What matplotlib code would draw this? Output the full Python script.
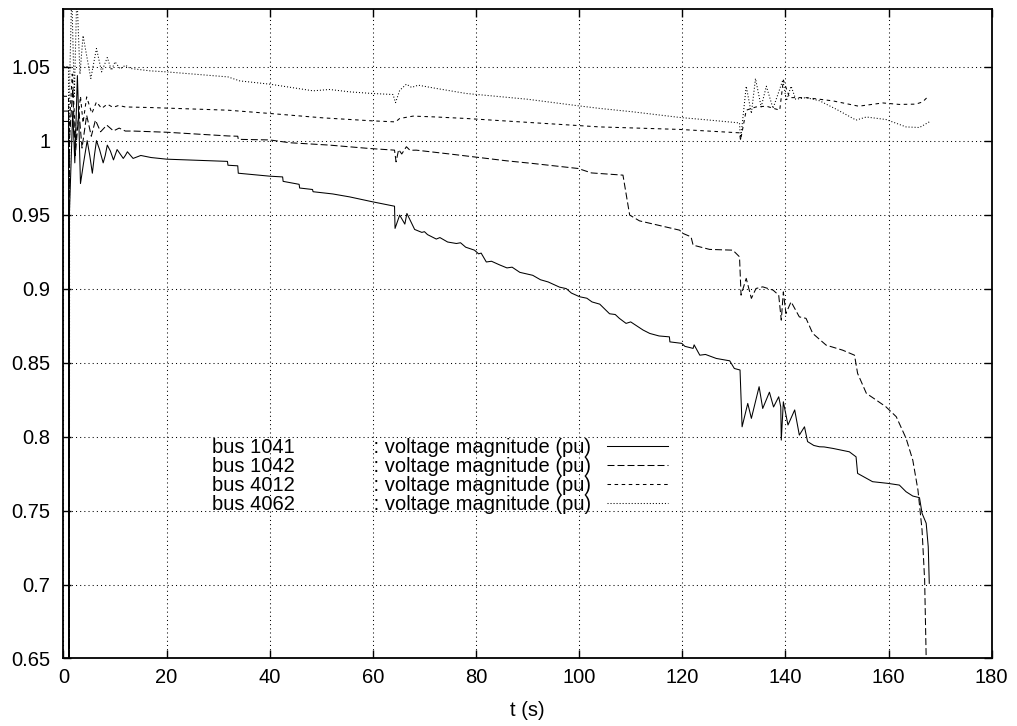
import matplotlib
matplotlib.use("Agg")
import matplotlib.pyplot as plt

plt.rcParams['font.family'] = ['Liberation Sans', 'DejaVu Sans']

# bus 1041 voltage (solid)
t_1041 = [0, 0.98, 1.0, 1.1, 1.15, 1.8, 2.2, 2.7, 3.0, 3.3, 3.9, 4.6, 5.1, 5.6, 6.0, 6.4, 7.0,
          7.7, 8.1, 8.5, 9.1, 9.7, 10.0, 10.4, 11.0, 11.6, 12.0, 12.4, 13.0, 13.5, 15, 17, 20,
          31.8, 31.9, 33.8, 33.9, 40, 42.5, 42.6, 45.7, 45.8,
          48.3, 48.4, 52.2, 55.5, 59.9, 64.2, 64.3, 65.2, 66.2, 66.6, 68.1, 69.5, 70.0, 70.6,
          72.3, 73.0, 74.5, 76.2, 77.0, 78.0, 79.7, 80.5, 81.0, 82.0, 83.0, 84.6, 86.0, 87.0,
          88.5, 91.0, 92.5, 94.0, 96.2, 97.5, 98.5, 100.1, 101.5, 102.5, 104.0, 105.9, 107.0,
          107.8, 109.1, 110.0, 112.4, 113.7, 115.5, 117.5, 117.6, 119.9, 120.5, 122.1, 122.3,
          123.4, 124.5, 126.6, 129.2, 130.1, 131.2, 131.6, 132.7, 133.4, 134.9, 135.6, 136.9,
          137.7, 138.7, 139.1, 139.2, 139.6, 140.5, 141.8, 142.7, 143.7, 144.3, 145.5, 146.6,
          147.5, 149.2, 152.4, 153.7, 154.0, 155.7, 156.9, 159.8, 162.1, 163.4, 164.7, 166.0,
          166.5, 167.3, 167.7, 167.9]
v_1041 = [1.013, 1.013, 0.3, 0.3, 0.95, 1.02, 0.985, 1.044, 1.01, 0.971, 0.985, 1.0, 0.99,
          0.978, 0.99, 1.0, 0.994, 0.985, 0.99, 0.997, 0.993, 0.987, 0.99, 0.994, 0.991,
          0.988, 0.99, 0.9925, 0.99, 0.988, 0.990, 0.9886, 0.9875, 0.986, 0.9834,
          0.983, 0.978, 0.976, 0.9755, 0.9725, 0.9705, 0.968, 0.967, 0.9655, 0.964, 0.962,
          0.9587, 0.9557, 0.9407, 0.9497, 0.9436, 0.9508, 0.940, 0.938, 0.9385, 0.9365,
          0.9335, 0.9345, 0.9315, 0.9305, 0.931, 0.928, 0.926, 0.9235, 0.924, 0.918, 0.9185,
          0.916, 0.914, 0.9145, 0.911, 0.909, 0.906, 0.9045, 0.901, 0.900, 0.897, 0.8945,
          0.8935, 0.891, 0.8895, 0.883, 0.8825, 0.8799, 0.8765, 0.8775, 0.872, 0.8697, 0.868,
          0.8674, 0.864, 0.863, 0.861, 0.8596, 0.862, 0.855, 0.8555, 0.8528, 0.8512, 0.846,
          0.845, 0.8066, 0.8224, 0.8123, 0.8337, 0.819, 0.830, 0.820, 0.8269, 0.820, 0.7976,
          0.8235, 0.8078, 0.818, 0.801, 0.8066, 0.7966, 0.794, 0.7931, 0.793, 0.792, 0.7897,
          0.7863, 0.7751, 0.7718, 0.7695, 0.7684, 0.7672, 0.7627, 0.7598, 0.7587, 0.7481,
          0.7414, 0.7255, 0.7008]

# bus 1042 voltage (long dashes)
t_1042 = [0, 0.98, 1.0, 1.1, 1.15, 1.8, 2.3, 3.0, 3.6, 4.5, 5.4, 6.2, 7.2, 8.4, 9.7, 10.8,
          12.0, 13.5, 16.8, 20, 31.9, 33.8, 33.9, 40, 43.9, 51.6, 59.4, 64.2, 64.5, 65.0,
          65.6, 66.5, 67.2, 68.4, 74.9, 79.7, 85.9, 91, 99.8, 102.4, 108.5, 109.8, 111.7,
          119.5, 120, 121.7, 122.1, 125.3, 129.8, 131.1, 131.4, 132.4, 133.4, 134.3, 135.6,
          137.6, 138.7, 139.2, 139.6, 140.1, 141.1, 142.7, 144, 145.3, 147.9, 151.1, 153.4,
          154, 155.7, 157.6, 159.5, 161.5, 163.4, 164.7, 165.7, 166.5, 167.0, 167.3, 167.4]
v_1042 = [1.02, 1.02, 0.3, 0.3, 1.0, 1.035, 0.99, 1.02, 0.995, 1.0172, 1.003, 1.0139, 1.006,
          1.0105, 1.0066, 1.0085, 1.0065, 1.0065, 1.0061, 1.0057, 1.0032, 1.003, 1.0009,
          1.0005, 0.9986, 0.997, 0.9947, 0.9936, 0.9857, 0.994, 0.991, 0.9959, 0.9935,
          0.9936, 0.991, 0.989, 0.9864, 0.9846, 0.9812, 0.9782, 0.9767, 0.9497, 0.9458,
          0.9395, 0.9375, 0.935, 0.9294, 0.9265, 0.926, 0.9215, 0.8956, 0.9069, 0.8934,
          0.9001, 0.9012, 0.899, 0.8956, 0.8787, 0.8978, 0.8832, 0.8911, 0.8809, 0.8799,
          0.8697, 0.8618, 0.8584, 0.855, 0.8427, 0.8292, 0.8247, 0.8201, 0.8134, 0.7988,
          0.7841, 0.7639, 0.7368, 0.703, 0.65, 0.62]

# bus 4012 voltage (short dashes)
t_4012 = [0, 0.98, 1.0, 1.1, 1.15, 1.7, 2.4, 3.3, 3.8, 4.5, 5.5, 6.4, 7.4, 8.5, 9.6, 10.7,
          12, 16.8, 31.9, 40, 50.4, 59.9, 64.4, 65.2, 67.8, 71.7, 78.1, 104, 119.5, 131.1,
          131.3, 132.4, 134.3, 136.3, 138.9, 139.6, 140.8, 144, 149.2, 154.2, 158.9, 162.1,
          165.3, 166.6, 167.6]
v_4012 = [1.03, 1.03, 0.3, 0.3, 1.01, 1.045, 1.0, 1.03, 1.012, 1.0296, 1.0184, 1.0262,
          1.0218, 1.0247, 1.0225, 1.0238, 1.0228, 1.0224, 1.0206, 1.0184, 1.0154, 1.0134,
          1.0127, 1.015, 1.0166, 1.0161, 1.015, 1.0093, 1.0076, 1.0053, 1.0003, 1.0206,
          1.0228, 1.0233, 1.0206, 1.041, 1.0291, 1.0291, 1.0269, 1.0233, 1.0255, 1.0245,
          1.0247, 1.0262, 1.0296]

# bus 4062 voltage (dotted)
t_4062 = [0, 0.98, 1.0, 1.1, 1.2, 1.6, 2.1, 2.6, 3.2, 3.8, 5.3, 6.4, 7.4, 8.5, 9.3, 10,
          11, 12, 13, 16.8, 20, 31.9, 34.2, 40, 48.4, 51.6, 55.5, 59.9, 63.9, 64.4, 65.2,
          66.5, 67.5, 68.8, 72.3, 78.1, 90, 100, 104, 110.4, 119.5, 125.3, 131.1, 131.3,
          132.4, 133.4, 134.2, 135.3, 136.3, 137.6, 139.5, 140.2, 141.1, 142.0, 144, 146.6,
          150, 153.7, 155.7, 159.5, 163.4, 166, 167.9]
v_4062 = [1.05, 1.05, 0.3, 0.3, 1.04, 1.10, 1.03, 1.10, 1.045, 1.071, 1.042, 1.0623, 1.0465,
          1.0562, 1.0476, 1.0533, 1.0485, 1.051, 1.0488, 1.0472, 1.0465, 1.0431, 1.0404,
          1.0382, 1.0337, 1.0346, 1.033, 1.0319, 1.0312, 1.0257, 1.034, 1.0382, 1.036,
          1.0375, 1.0353, 1.0319, 1.028, 1.0235, 1.0218, 1.0195, 1.0157, 1.0139, 1.012,
          1.0003, 1.0368, 1.0184, 1.042, 1.0228, 1.0368, 1.0218, 1.041, 1.027, 1.0368, 1.028,
          1.0291, 1.027, 1.021, 1.0139, 1.016, 1.0143, 1.0093, 1.0089, 1.0127]

bus_names = ["bus 1041", "bus 1042", "bus 4012", "bus 4062"]
x_ticks = [0, 20, 40, 60, 80, 100, 120, 140, 160, 180]
y_ticks = [0.65, 0.7, 0.75, 0.8, 0.85, 0.9, 0.95, 1, 1.05]

fig = plt.figure(figsize=(10.17, 7.26), dpi=100)
ax = fig.add_axes([0.0624, 0.093, 0.9127, 0.8946])

lw = 0.75
styles = ['-', (0, (6.7, 2.9)), (0, (3.4, 3.4)), (0, (1.0, 1.9))]
series = [(t_1041, v_1041), (t_1042, v_1042), (t_4012, v_4012), (t_4062, v_4062)]
for (t, v), name, ls in zip(series, bus_names, styles):
    label = name.ljust(22) + ": voltage magnitude (pu)"
    ax.plot(t, v, color='black', lw=lw, linestyle=ls, label=label)

ax.set_xlim(0, 180)
ax.set_ylim(0.65, 1.089)
ax.set_xticks(x_ticks)
ax.set_yticks(y_ticks)
ax.set_yticklabels(['%g' % y for y in y_ticks])
ax.grid(True, color='black', lw=0.75, linestyle=(0, (1.0, 3.0)))
ax.tick_params(direction='in', length=6, width=1, top=True, right=True,
               labelsize=14.5, pad=7)
ax.tick_params(axis='y', pad=9.5)
for sp in ax.spines.values():
    sp.set_linewidth(1.3)
ax.set_xlabel("t (s)", fontsize=14.5, labelpad=10)

ax.legend(loc='upper left', bbox_to_anchor=(0.16, 0.34), frameon=False,
          markerfirst=False, handlelength=3.0, handletextpad=0.8,
          labelspacing=0.0, borderpad=0, borderaxespad=0, fontsize=14.5)

fig.savefig("out.png", dpi=100)
